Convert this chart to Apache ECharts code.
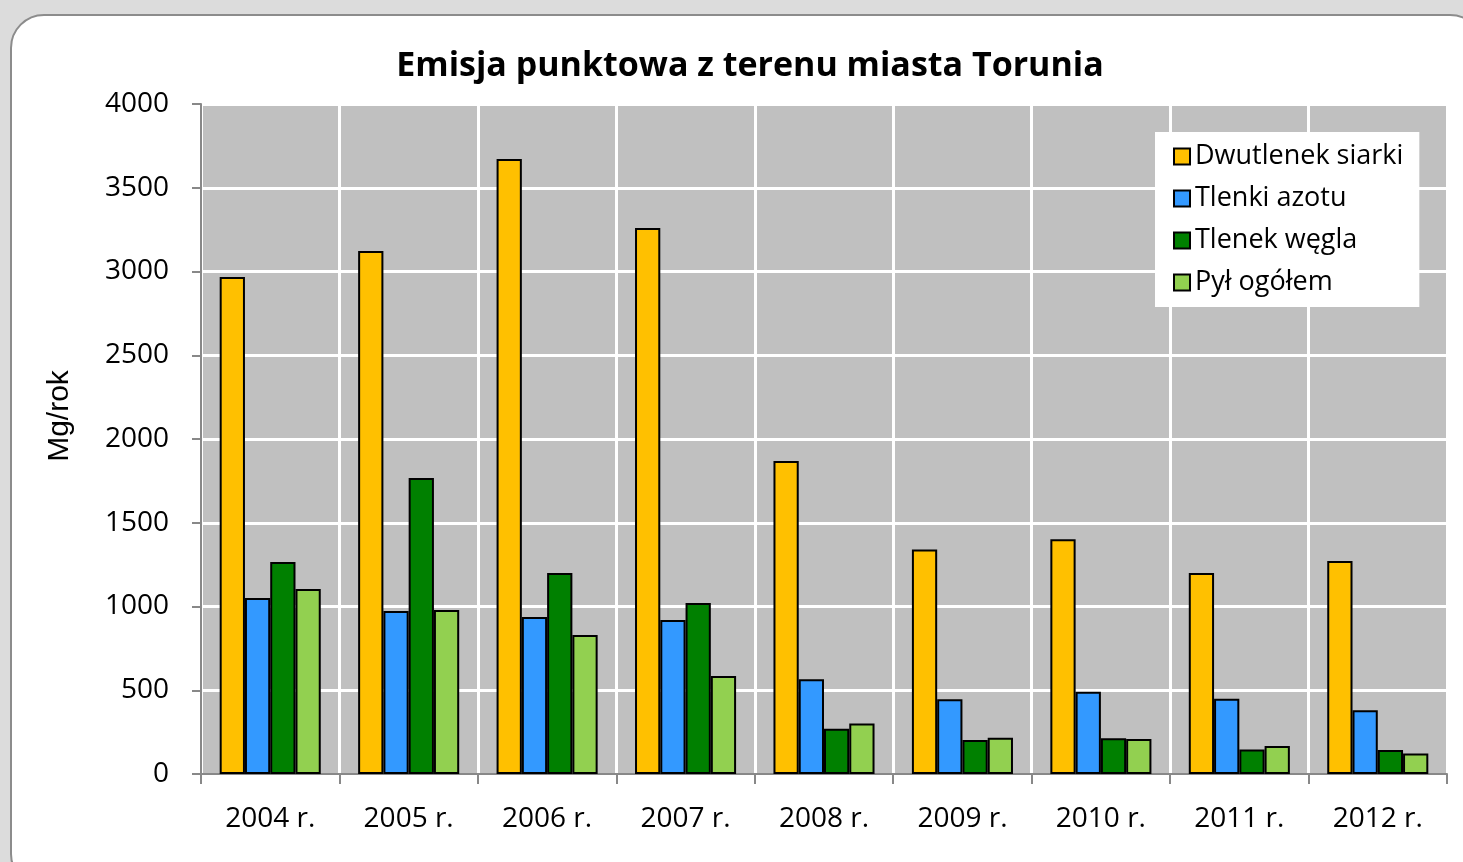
<!DOCTYPE html>
<html>
<head>
    <meta charset="UTF-8">
    <title>Emisja punktowa</title>
    <style>
        body,
        html {
            width: 100%;
            height: 100%;
            margin: 0;
            padding: 0;
            background: #dcdcdc;
            overflow: hidden;
        }
        #frame {
            position: absolute;
            left: 10px;
            top: 14px;
            width: 1470px;
            height: 870px;
            background: #fff;
            border: 2px solid #8c8c8c;
            border-radius: 34px;
        }
        #myChart {
            position: absolute;
            left: 0;
            top: 0;
            width: 1463px;
            height: 862px;
        }
    </style>
    <script src="https://cdn.jsdelivr.net/npm/echarts@6/dist/echarts.min.js"></script>
</head>
<body>
    <div id="frame"></div>
    <div id="myChart"></div>
    <script>
        // dane (Mg/rok)
        let lata = ['2004 r.', '2005 r.', '2006 r.', '2007 r.', '2008 r.', '2009 r.', '2010 r.', '2011 r.', '2012 r.'];
        let dwutlenekSiarki = [2967, 3122, 3672, 3260, 1869, 1341, 1401, 1200, 1272];
        let tlenkiAzotu = [1051, 973, 937, 919, 565, 446, 491, 450, 380];
        let tlenekWegla = [1266, 1767, 1200, 1021, 270, 203, 213, 147, 143];
        let pylOgolem = [1104, 979, 830, 585, 301, 217, 209, 167, 123];

        let font = '"Open Sans", "Noto Sans", sans-serif';

        let myEcharts = echarts.init(document.querySelector('#myChart'));

        function bar(name, data, color) {
            return {
                name: name,
                type: 'bar',
                data: data,
                barGap: '0%',
                barCategoryGap: '27%',
                itemStyle: { color: color, borderColor: '#000', borderWidth: 2 }
            };
        }

        let option = {
            animation: false,
            backgroundColor: 'transparent',
            title: {
                text: 'Emisja punktowa z terenu miasta Torunia',
                left: 745,
                textAlign: 'center',
                top: 44,
                textStyle: { fontFamily: font, fontSize: 34, fontWeight: 'bold', color: '#000' }
            },
            // tytuł osi Y (przesunięty jak w oryginale)
            graphic: [{
                type: 'text',
                x: 60,
                y: 416,
                rotation: Math.PI / 2,
                style: {
                    text: 'Mg/rok',
                    fontFamily: 'Liberation Sans, Arial, sans-serif',
                    fontSize: 30,
                    fill: '#000',
                    align: 'center',
                    verticalAlign: 'middle'
                }
            }],
            legend: {
                orient: 'vertical',
                left: 1155,
                top: 132,
                width: 265,
                padding: [11, 16, 11, 18],
                backgroundColor: '#fff',
                itemWidth: 16,
                itemHeight: 16,
                itemGap: 15,
                icon: 'rect',
                textStyle: { fontFamily: font, fontSize: 27, color: '#000' },
                data: ['Dwutlenek siarki', 'Tlenki azotu', 'Tlenek węgla', 'Pył ogółem']
            },
            grid: { left: 201, top: 104, right: 16, bottom: 88, backgroundColor: '#c0c0c0', show: true, borderWidth: 0 },
            xAxis: {
                type: 'category',
                data: lata,
                axisLine: { lineStyle: { color: '#888', width: 2 } },
                axisTick: { show: true, length: 10, lineStyle: { color: '#888', width: 2 } },
                axisLabel: { fontFamily: font, fontSize: 28, color: '#000', margin: 31 },
                splitLine: { show: true, lineStyle: { color: '#fff', width: 3 } }
            },
            yAxis: {
                type: 'value',
                min: 0,
                max: 4000,
                interval: 500,
                axisLine: { show: true, lineStyle: { color: '#888', width: 2 } },
                axisTick: { show: true, length: 9, lineStyle: { color: '#888', width: 2 } },
                axisLabel: { fontFamily: font, fontSize: 28, color: '#000', margin: 32, formatter: v => String(v) },
                splitLine: { lineStyle: { color: '#fff', width: 3 } }
            },
            series: [
                bar('Dwutlenek siarki', dwutlenekSiarki, '#ffc000'),
                bar('Tlenki azotu', tlenkiAzotu, '#3399ff'),
                bar('Tlenek węgla', tlenekWegla, '#008000'),
                bar('Pył ogółem', pylOgolem, '#92d050')
            ]
        };
        myEcharts.setOption(option, true);
    </script>
</body>
</html>
